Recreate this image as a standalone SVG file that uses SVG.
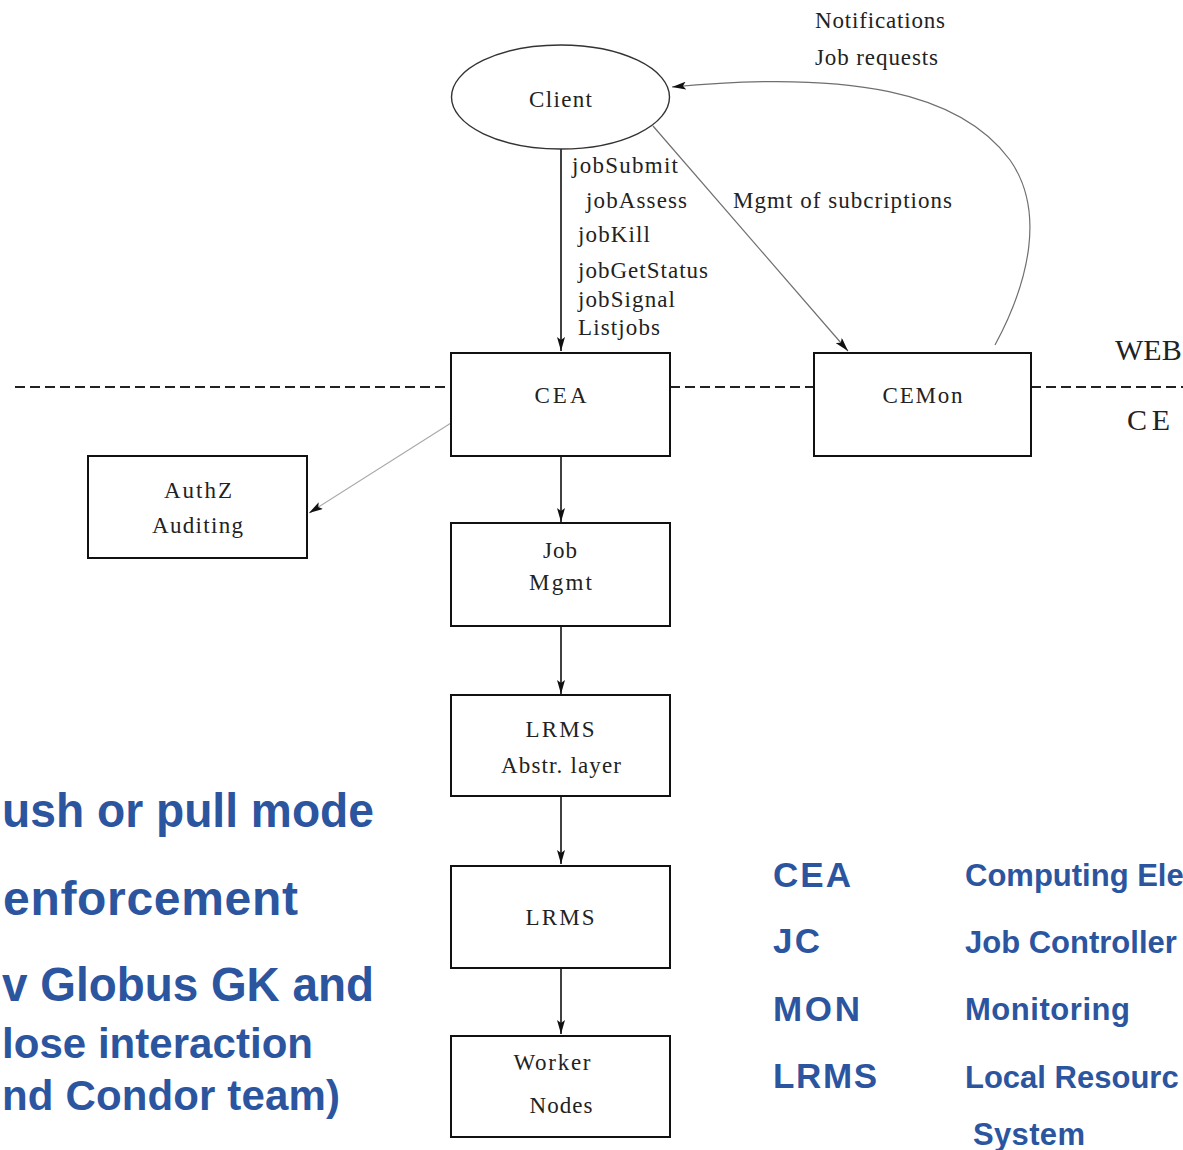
<svg xmlns="http://www.w3.org/2000/svg" width="1183" height="1150" viewBox="0 0 1183 1150">
  <style>
    .box { fill: #ffffff; stroke: #111111; stroke-width: 2; }
    .lbl { font-family: "Liberation Serif", "Times New Roman", serif; font-size: 23px; fill: #222222; }
    .mid { text-anchor: middle; }
    .flow { fill: none; stroke: #111111; stroke-width: 1.6; marker-end: url(#arrowDark); }
    .thin { fill: none; stroke: #6f6f6f; stroke-width: 1.2; marker-end: url(#arrowDark); }
    .faint { fill: none; stroke: #a8a8a8; stroke-width: 1.1; marker-end: url(#arrowDark); }
    .sep { fill: none; stroke: #222222; stroke-width: 2; stroke-dasharray: 10 5; }
    .note { font-family: "Liberation Sans", Arial, sans-serif; font-weight: bold; fill: #2c55a0; }
  </style>
  <defs>
    <marker id="arrowDark" viewBox="0 0 14 8" markerWidth="14" markerHeight="8" refX="14" refY="4" orient="auto" markerUnits="userSpaceOnUse">
      <path d="M0,0 L14,4 L0,8 L3,4 Z" fill="#111111"/>
    </marker>
  </defs>

  <!-- WEB / CE boundary -->
  <g id="boundary">
    <line class="sep" x1="15" y1="387" x2="451" y2="387"/>
    <line class="sep" x1="670" y1="387" x2="814" y2="387"/>
    <line class="sep" x1="1031" y1="387" x2="1183" y2="387"/>
    <text class="lbl" x="1115" y="360" style="font-size:30px">WEB</text>
    <text class="lbl" x="1127" y="430" style="font-size:30px" textLength="43">CE</text>
  </g>

  <!-- connectors -->
  <g id="connectors">
    <line class="flow" x1="561" y1="149" x2="561" y2="351"/>
    <line class="thin" x1="653" y1="126" x2="848" y2="351"/>
    <path class="thin" d="M995,345 C1030,280 1045,210 1010,160 C960,92 850,70 672,87"/>
    <line class="faint" x1="451" y1="423" x2="309" y2="513"/>
    <line class="flow" x1="561" y1="457" x2="561" y2="522"/>
    <line class="flow" x1="561" y1="627" x2="561" y2="694"/>
    <line class="flow" x1="561" y1="797" x2="561" y2="864"/>
    <line class="flow" x1="561" y1="969" x2="561" y2="1034"/>
  </g>

  <!-- connector labels -->
  <g id="labels">
    <text class="lbl" x="815" y="28" textLength="130">Notifications</text>
    <text class="lbl" x="815" y="65" textLength="123">Job requests</text>
    <text class="lbl" x="572" y="173" textLength="106">jobSubmit</text>
    <text class="lbl" x="586" y="208" textLength="101">jobAssess</text>
    <text class="lbl" x="578" y="242" textLength="72">jobKill</text>
    <text class="lbl" x="578" y="278" textLength="130">jobGetStatus</text>
    <text class="lbl" x="578" y="307" textLength="97">jobSignal</text>
    <text class="lbl" x="578" y="335" textLength="82">Listjobs</text>
    <text class="lbl" x="733" y="208" textLength="219">Mgmt of subcriptions</text>
  </g>

  <!-- nodes -->
  <g id="client">
    <ellipse cx="560.5" cy="97" rx="109" ry="52" fill="#ffffff" stroke="#333333" stroke-width="1.4"/>
    <text class="lbl mid" x="560.5" y="107" textLength="63">Client</text>
  </g>
  <g id="cea">
    <rect class="box" x="451" y="353" width="219" height="103"/>
    <text class="lbl mid" x="560.5" y="403" textLength="52">CEA</text>
  </g>
  <g id="cemon">
    <rect class="box" x="814" y="353" width="217" height="103"/>
    <text class="lbl mid" x="922.5" y="403" textLength="80">CEMon</text>
  </g>
  <g id="authz">
    <rect class="box" x="88" y="456" width="219" height="102"/>
    <text class="lbl mid" x="198" y="498" textLength="68">AuthZ</text>
    <text class="lbl mid" x="197.5" y="533" textLength="91">Auditing</text>
  </g>
  <g id="jobmgmt">
    <rect class="box" x="451" y="523" width="219" height="103"/>
    <text class="lbl mid" x="560" y="558" textLength="34">Job</text>
    <text class="lbl mid" x="560.5" y="590" textLength="63">Mgmt</text>
  </g>
  <g id="lrms-abstr">
    <rect class="box" x="451" y="695" width="219" height="101"/>
    <text class="lbl mid" x="560" y="737" textLength="69">LRMS</text>
    <text class="lbl mid" x="561" y="773" textLength="120">Abstr. layer</text>
  </g>
  <g id="lrms">
    <rect class="box" x="451" y="866" width="219" height="102"/>
    <text class="lbl mid" x="560" y="925" textLength="69">LRMS</text>
  </g>
  <g id="worker-nodes">
    <rect class="box" x="451" y="1036" width="219" height="101"/>
    <text class="lbl mid" x="552" y="1070" textLength="77">Worker</text>
    <text class="lbl mid" x="561" y="1113" textLength="63">Nodes</text>
  </g>

  <!-- bullet text on the left -->
  <g id="notes-left">
    <text class="note" x="2" y="827" style="font-size:48px" textLength="372" lengthAdjust="spacingAndGlyphs">ush or pull mode</text>
    <text class="note" x="3" y="915" style="font-size:48px" textLength="295">enforcement</text>
    <text class="note" x="2" y="1001" style="font-size:48px" textLength="372" lengthAdjust="spacingAndGlyphs">v Globus GK and</text>
    <text class="note" x="2" y="1058" style="font-size:42px" textLength="311">lose interaction</text>
    <text class="note" x="2" y="1110" style="font-size:42px" textLength="338">nd Condor team)</text>
  </g>

  <!-- acronym legend -->
  <g id="legend">
    <text class="note" x="773" y="887" style="font-size:35px" textLength="78">CEA</text>
    <text class="note" x="773" y="953" style="font-size:35px" textLength="47">JC</text>
    <text class="note" x="773" y="1021" style="font-size:35px" textLength="87">MON</text>
    <text class="note" x="773" y="1088" style="font-size:35px" textLength="104">LRMS</text>
    <text class="note" x="965" y="886" style="font-size:31px">Computing Ele</text>
    <text class="note" x="965" y="953" style="font-size:31px">Job Controller</text>
    <text class="note" x="965" y="1020" style="font-size:31px" textLength="165">Monitoring</text>
    <text class="note" x="965" y="1088" style="font-size:31px">Local Resourc</text>
    <text class="note" x="973" y="1145" style="font-size:31px" textLength="112">System</text>
  </g>
</svg>
